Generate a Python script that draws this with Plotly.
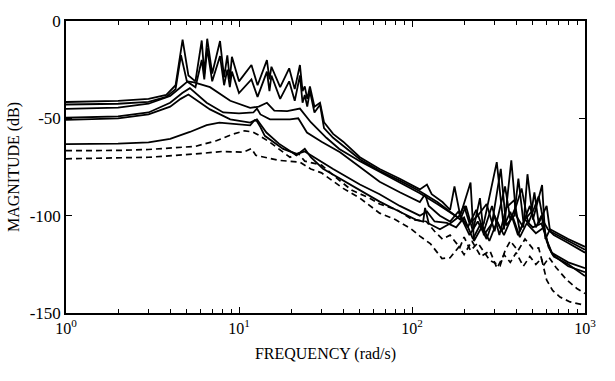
import plotly.graph_objects as go

# ---- data (frequency in rad/s, magnitude in dB) ----
fA = [1, 2, 3, 3.8, 4.3, 4.72, 5.1, 5.6, 6.09, 6.3, 6.55, 7.0, 7.77, 8.2, 8.56, 8.85, 9.1, 10.0, 11.8, 12.8,
      14.5, 15.0, 15.4, 17.3, 19.5, 21.0, 22.5, 23.3, 24.0, 24.8, 25.7, 27.3, 29.4, 31, 35, 40, 50, 65, 85, 111,
      122, 130, 150, 166, 176, 190, 218, 228, 260, 309, 340, 375, 400, 440, 465, 500, 565, 590, 628, 800, 1000]
mA = [-41.6, -41, -40, -38, -33, -9.6, -28, -31, -10, -27, -9.1, -27, -10.3, -29, -17.6, -30, -18.4, -31, -22.6, -33,
      -20.1, -30, -23.5, -34, -24.3, -35, -22.6, -36, -33.6, -40, -33.6, -44, -42, -52, -58, -62, -70, -76, -81, -86.5,
      -84, -89, -93, -97, -85, -100, -83, -113, -104, -72.5, -107, -71.6, -100, -106, -78.7, -102, -84.3, -112, -107, -112, -116]

fB = [1, 2, 3, 3.8, 4.3, 4.62, 5.0, 5.6, 6.09, 6.3, 6.55, 7.0, 7.77, 8.2, 8.56, 8.85, 9.1, 10.0, 11.8, 12.8,
      14.5, 15.0, 15.4, 17.3, 19.5, 21.0, 22.5, 23.3, 24.0, 24.8, 25.7, 27.3, 29.4, 31, 35, 40, 50, 65, 85, 111,
      140, 166, 190, 205, 225, 247, 260, 290, 326, 350, 390, 412, 440, 490, 510, 540, 600, 628, 800, 1000]
mB = [-42.9, -42.5, -41.5, -39, -35, -17.6, -31, -34, -20, -30, -14, -31, -18, -33, -25, -34, -26, -37, -30, -39,
      -26, -36, -28, -40, -31, -41, -28, -42, -38, -44, -36, -47, -43, -55, -60, -64, -71, -77, -82, -87.5,
      -93, -98, -102, -95, -108, -91, -110, -104, -76, -105, -100, -81, -103, -98, -88, -104, -95, -108, -113, -117.5]

fC = [1, 2, 3, 4, 4.6, 5.05, 5.5, 6.8, 8.9, 11.6, 13, 14.5, 16, 19, 22.5, 26, 32, 38, 50, 65,
      85, 111, 140, 166, 185, 200, 215, 240, 270, 300, 345, 370, 400, 430, 470, 540, 575, 610, 660, 800, 1000]
mC = [-45.1, -44.5, -42.5, -38.5, -34, -31, -31.5, -34, -41, -44.6, -44, -42, -46, -46.3, -45, -52, -60, -65.7, -72, -77.5,
      -83, -88.5, -94, -98.5, -101, -95, -104, -100, -94, -108, -85, -102, -95, -86, -104, -90, -103, -107, -110, -114, -119]

fD = [1, 2, 3, 4, 4.7, 5.2, 6.5, 8.1, 10, 12.1, 12.7, 13.3, 15.1, 19.7, 22, 24.7, 30, 38.4, 50, 65,
      85, 111, 119, 125, 145, 166, 185, 210, 235, 260, 290, 320, 350, 390, 420, 480, 520, 560, 600, 640, 800, 1000]
mD = [-49.7, -49, -47, -42, -37, -34.5, -42, -47, -47.5, -47, -45, -48, -50.5, -50.5, -50, -57.3, -62, -67.4, -75, -82.6,
      -88, -93, -89, -95, -100, -103, -98, -106, -97, -108, -95, -110, -96, -92, -108, -95, -106, -100, -113, -119, -124, -127]

fE = [1, 2, 3, 4, 4.6, 5.1, 6.8, 8.9, 11.6, 12.7, 13.3, 14.4, 17, 21.5, 24, 26, 30.6, 38.4, 50, 65,
      85, 105, 116, 119, 125, 145, 166, 190, 215, 240, 270, 300, 330, 370, 410, 450, 500, 560, 610, 650, 800, 1000]
mE = [-50.8, -50, -48, -44, -40, -37.8, -45.4, -50.5, -52.2, -50.5, -53, -57.3, -63, -69, -65.7, -70, -75.9, -81, -87, -92.8,
      -98, -102, -103, -96, -104, -107, -104, -100, -110, -103, -112, -100, -108, -98, -110, -102, -106, -104, -114, -120, -126, -129]

fF = [1, 2, 3, 4, 5.2, 6.5, 7.7, 9.7, 11.6, 12.3, 12.7, 13.3, 14.1, 18, 21.6, 24, 28, 35, 50, 65,
      85, 111, 122, 135, 159, 180, 200, 225, 250, 280, 310, 340, 380, 420, 460, 520, 580, 615, 660, 800, 1000]
mF = [-63.2, -63, -62.3, -60.5, -57, -53.5, -52.2, -53, -53.6, -51, -51.5, -54.5, -59, -65.7, -68.3, -67, -70.8, -76, -84, -89,
      -95, -100, -97.8, -103, -103.7, -106, -101, -112, -104, -113, -103, -110, -100, -111, -104, -109, -106, -116, -121, -125, -131]

fU = [1, 2, 3, 4, 5.6, 7.4, 9.3, 10.8, 12, 13.2, 15.1, 19.7, 22, 24, 30, 37, 45, 57, 65, 82,
      100, 121, 135, 150, 166, 189, 200, 218, 240, 282, 323, 345, 370, 410, 450, 500, 540, 574, 620, 680, 784, 897, 1000]
mU = [-66.6, -66.5, -66, -65.3, -64.4, -61.5, -58, -56.4, -57, -59, -62.3, -70, -68, -72, -74, -81, -87, -91, -94, -97,
      -102, -103, -108, -112, -110, -116.4, -111, -118, -114, -123, -125.7, -118, -113, -118, -112, -117, -116.6, -125.7, -121.5, -126.6, -133, -137.4, -140]

fL = [1, 2, 3, 5.6, 8, 10.6, 11.8, 12.5, 17, 22.5, 26, 30, 40, 50, 65, 80, 98, 111, 128, 149,
      166, 187, 200, 222, 250, 282, 310, 340, 370, 400, 440, 480, 520, 560, 600, 650, 717, 820, 1000]
mL = [-70.8, -70.5, -70, -68.3, -67, -67.4, -65.5, -69, -71.6, -72.5, -76, -78, -86, -91, -98.7, -102, -106.5, -110.5, -114.5, -122,
      -121.6, -116, -120, -113, -121, -118, -127, -120, -124, -119, -126, -121, -125, -122, -133, -138.4, -141.8, -144.3, -146]

solid_series = [(fA, mA), (fB, mB), (fC, mC), (fD, mD), (fE, mE), (fF, mF)]
dashed_series = [(fU, mU), (fL, mL)]

xtick_vals = [1, 10, 100, 1000]
xtick_text = ["10<sup>0</sup>", "10<sup>1</sup>", "10<sup>2</sup>", "10<sup>3</sup>"]
ytick_vals = [-150, -100, -50, 0]
ytick_text = ["-150", "-100", "-50", "0"]

minor_vals = [k * 10 ** d for d in range(3) for k in range(2, 10)]

fig = go.Figure()
for f, m in solid_series:
    fig.add_trace(go.Scatter(x=f, y=m, mode="lines",
                             line=dict(color="black", width=1.8), showlegend=False))
for f, m in dashed_series:
    fig.add_trace(go.Scatter(x=f, y=m, mode="lines",
                             line=dict(color="black", width=1.7, dash="6px,4px"), showlegend=False))

serif = "Liberation Serif"

fig.update_layout(
    width=615, height=381,
    margin=dict(l=66, r=30, t=16, b=68),
    paper_bgcolor="white", plot_bgcolor="white",
    font=dict(family=serif, size=16, color="black"),
    showlegend=False,
)
fig.update_xaxes(
    type="log", range=[0, 3],
    tickvals=xtick_vals, ticktext=xtick_text,
    ticks="inside", ticklen=6, tickwidth=1.3, tickcolor="black",
    minor=dict(tickvals=minor_vals, ticks="inside", ticklen=4, tickwidth=1.2,
               tickcolor="black", showgrid=False),
    showline=True, linecolor="black", linewidth=1.5, mirror="allticks",
    showgrid=False, zeroline=False,
    tickfont=dict(family=serif, size=16),
    title=dict(text="FREQUENCY (rad/s)", font=dict(family=serif, size=16), standoff=12),
)
fig.update_yaxes(
    range=[-150, 0],
    tickvals=ytick_vals, ticktext=ytick_text,
    ticks="inside", ticklen=6, tickwidth=1.3, tickcolor="black",
    showline=True, linecolor="black", linewidth=1.5, mirror="allticks",
    showgrid=False, zeroline=False,
    tickfont=dict(family=serif, size=17),
    title=dict(text="MAGNITUDE (dB)", font=dict(family=serif, size=16), standoff=6),
)

fig.write_html("out.html")
